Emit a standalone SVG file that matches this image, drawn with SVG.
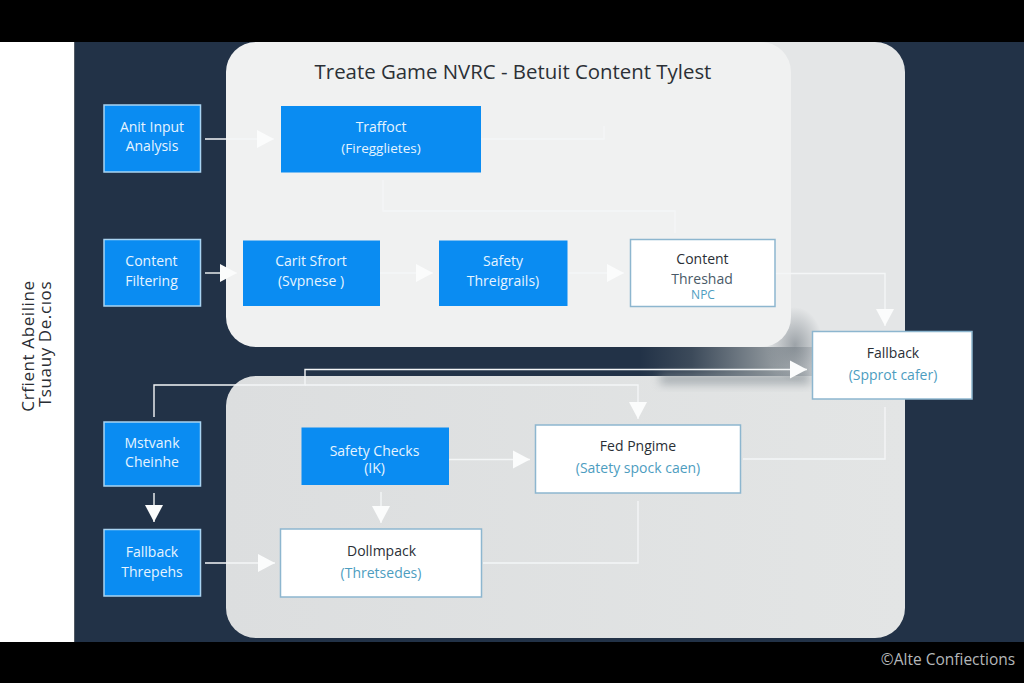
<svg xmlns="http://www.w3.org/2000/svg" width="1024" height="683" viewBox="0 0 1024 683">
<style>
text{font-family:"Open Sans","Noto Sans","Liberation Sans",sans-serif;text-anchor:middle}
.b{fill:#0a8cf2}
.bo{stroke:#a9d4f2;stroke-width:1.5}
.w{fill:#fff;stroke:#8db6cf;stroke-width:1.5}
.tw{fill:#e6f4ff;font-size:14px}
.td{fill:#2a2f36;font-size:14px}
.tb{fill:#4d9dbf;font-size:14px}
.c{fill:none;stroke:#f4f6f7;stroke-width:1.4}
.a{marker-end:url(#ah)}
</style>
<defs>
<marker id="ah" markerUnits="userSpaceOnUse" markerWidth="18" markerHeight="20" refX="17" refY="10" orient="auto"><path d="M0 1 L17 10 L0 19 Z" fill="#fbfcfc"/></marker>
<linearGradient id="sh" x1="0" y1="0" x2="1" y2="0"><stop offset="0" stop-color="#223247"/><stop offset="0.3" stop-color="#3c4a5a"/><stop offset="0.75" stop-color="#8b9399"/><stop offset="1" stop-color="#c4c8cb"/></linearGradient>
<linearGradient id="low" x1="0" y1="0" x2="1" y2="0"><stop offset="0" stop-color="#dcdedf"/><stop offset="1" stop-color="#e3e5e5"/></linearGradient>
<radialGradient id="gl"><stop offset="0" stop-color="#6d767e" stop-opacity="0.6"/><stop offset="1" stop-color="#6d767e" stop-opacity="0"/></radialGradient>
<filter id="bl" x="-20%" y="-80%" width="140%" height="260%"><feGaussianBlur stdDeviation="5"/></filter>
</defs>
<rect width="1024" height="683" fill="#000"/>
<rect x="0" y="42" width="74.500" height="600" fill="#fff"/>
<rect x="74.500" y="42" width="949.500" height="600" fill="#223247"/>
<g id="panels">
<path id="panel-right" d="M700 42H875a30 30 0 0 1 30 30V380H700Z" fill="#e4e6e7"/>
<path id="panel-low" d="M226 406a30 30 0 0 1 30-30H905V608a30 30 0 0 1-30 30H256a30 30 0 0 1-30-30Z" fill="url(#low)"/>
<rect x="640" y="347" width="172" height="29" fill="url(#sh)"/>
<rect x="660" y="374" width="150" height="10" fill="#7d868d" opacity="0.6" filter="url(#bl)"/>
<ellipse cx="795" cy="345" rx="28" ry="38" fill="url(#gl)"/>
<rect id="panel-top" x="226" y="42" width="565" height="305" rx="30" fill="#f0f1f1"/>
</g>
<text id="title" x="513" y="79" style="font-size:20.400px;fill:#2b3036">Treate Game NVRC - Betuit Content Tylest</text>
<g id="side-label" style="font-family:'Liberation Sans',sans-serif;font-size:17px;fill:#2a2d33;letter-spacing:.6px">
<text transform="translate(34 346) rotate(-90)">Crfient Abeiline</text>
<text transform="translate(51 344) rotate(-90)">Tsuauy De.cıos</text>
</g>
<g id="connectors">
<path class="c a" d="M205 139H274"/>
<path class="c" d="M481 139H604V126"/>
<path class="c" d="M383 180V211H675V233"/>
<path class="c a" d="M205 273H237"/>
<path class="c a" d="M380 273H433"/>
<path class="c a" d="M569 273H624"/>
<path class="c a" d="M775 273.500H885V326"/>
<path class="c a" d="M154 417V385H305V369.500H807"/>
<path class="c a" d="M305 385H638V419"/>
<path class="c a" d="M154 493V522"/>
<path class="c a" d="M449 459.500H530"/>
<path class="c a" d="M381 492V523"/>
<path class="c a" d="M205 563H275"/>
<path class="c" d="M483 563H638V501"/>
<path class="c" d="M743 459H885V407"/>
</g>
<g id="n1"><rect class="b bo" x="104" y="105" width="96.500" height="67"/><text class="tw" x="152" y="132">Anit Input</text><text class="tw" x="152" y="151">Analysis</text></g>
<g id="n2"><rect class="b" x="281" y="106" width="200" height="66.500"/><text class="tw" x="381" y="132">Traffoct</text><text class="tw" x="381" y="153" style="font-size:13.500px">(Firegglietes)</text></g>
<g id="n3"><rect class="b bo" x="104" y="239.500" width="96.500" height="66.500"/><text class="tw" x="151.500" y="266">Content</text><text class="tw" x="151.500" y="286">Filtering</text></g>
<g id="n4"><rect class="b" x="243" y="240.500" width="137" height="65.500"/><text class="tw" x="311" y="266">Carit Sfrort</text><text class="tw" x="311" y="286">(Svpnese )</text></g>
<g id="n5"><rect class="b" x="439" y="240.500" width="128.500" height="65.500"/><text class="tw" x="503" y="266">Safety</text><text class="tw" x="503" y="286">Threigrails)</text></g>
<g id="n6"><rect class="w" x="630.500" y="239.500" width="144.500" height="67"/><text class="td" x="702.500" y="264">Content</text><text class="td" x="702" y="284" style="fill:#4a5a68">Threshad</text><text class="tb" x="703" y="299" style="font-size:12px">NPC</text></g>
<g id="n7"><rect class="w" x="812.500" y="331.500" width="159.500" height="67.500"/><text class="td" x="893" y="358">Fallback</text><text class="tb" x="893" y="380">(Spprot cafer)</text></g>
<g id="n8"><rect class="b bo" x="104" y="422" width="96.500" height="64"/><text class="tw" x="152" y="448">Mstvank</text><text class="tw" x="152" y="467">Cheinhe</text></g>
<g id="n9"><rect class="b bo" x="104" y="529.500" width="96.500" height="66.500"/><text class="tw" x="152" y="557">Fallback</text><text class="tw" x="152" y="577">Threpehs</text></g>
<g id="n10"><rect class="b" x="301.500" y="427.500" width="147.500" height="57.500"/><text class="tw" x="374.500" y="456">Safety Checks</text><text class="tw" x="374.500" y="473">(IK)</text></g>
<g id="n11"><rect class="w" x="280.500" y="529" width="201" height="68"/><text class="td" x="381.500" y="556">Dollmpack</text><text class="tb" x="381" y="578">(Thretsedes)</text></g>
<g id="n12"><rect class="w" x="535.500" y="425" width="205" height="68"/><text class="td" x="638" y="451">Fed Pngime</text><text class="tb" x="638" y="473">(Satety spock caen)</text></g>
<text id="credit" x="948" y="665" style="font-size:15.500px;fill:#b4b7b9">©Alte Confiections</text>
</svg>
